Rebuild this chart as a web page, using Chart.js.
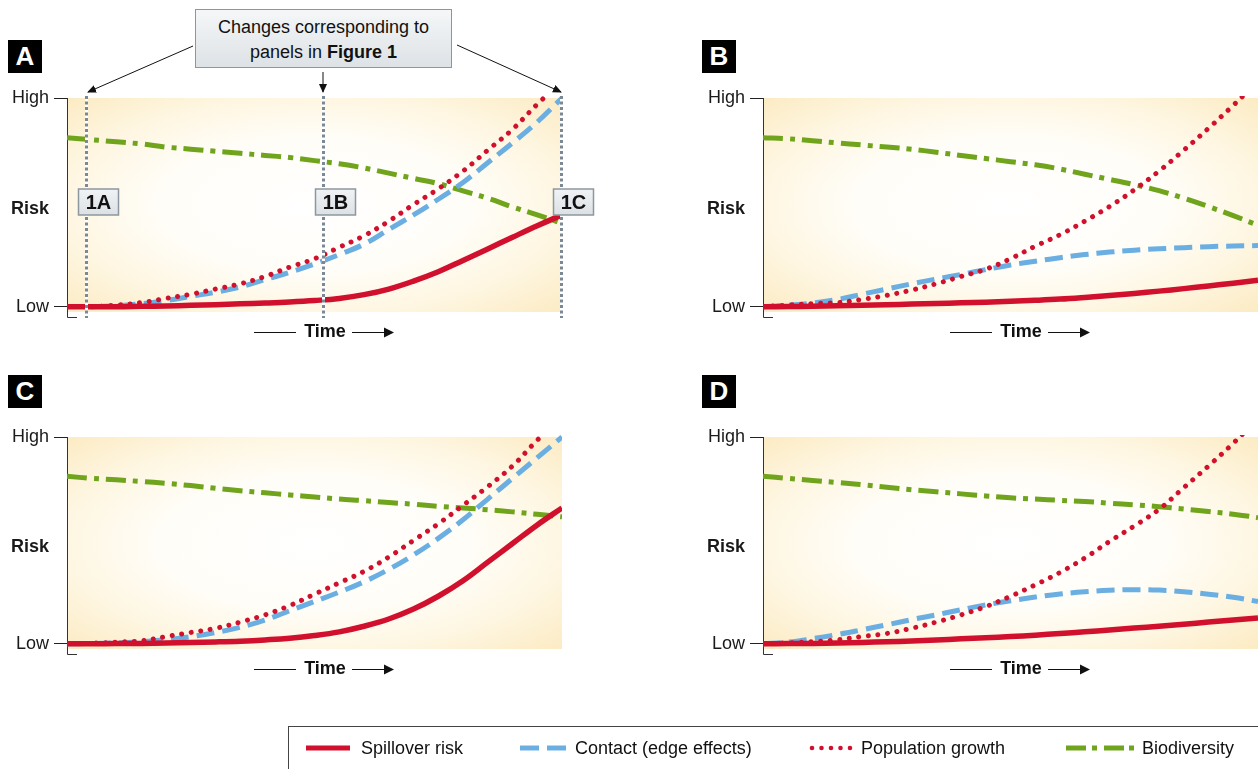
<!DOCTYPE html>
<html>
<head>
<meta charset="utf-8">
<script src="https://cdn.jsdelivr.net/npm/chart.js@4.4.1/dist/chart.umd.min.js"></script>
<style>
  body { margin: 0; width: 1258px; height: 769px; position: relative; overflow: hidden; background: #fff;
         font-family: "Liberation Sans", Arial, sans-serif; color: #111; }
  canvas { position: absolute; }
  .tag { position: absolute; width: 34px; height: 33px; background: #000; color: #fff; font-weight: bold;
         font-size: 26px; line-height: 33px; text-align: center; }
  #callout { position: absolute; left: 195px; top: 9px; width: 257px; height: 59px; box-sizing: border-box;
             border: 1px solid #8c969e; background: linear-gradient(#f5f7f8, #dde2e6); text-align: center;
             font-size: 18px; line-height: 25px; padding-top: 5px; }
  #legend { position: absolute; left: 288px; top: 726px; width: 1000px; height: 60px; border: 1px solid #444; }
  .lg { position: absolute; top: 736px; font-size: 18px; line-height: 24px; }
  svg { position: absolute; left: 0; top: 0; pointer-events: none; }
</style>
</head>
<body>
<div class="tag" style="left:8px; top:40px">A</div>
<div class="tag" style="left:702px; top:40px">B</div>
<div class="tag" style="left:8px; top:375px">C</div>
<div class="tag" style="left:702px; top:375px">D</div>

<div id="callout">Changes corresponding to<br>panels in <b>Figure 1</b></div>

<canvas id="chartA" width="620" height="265" style="left:0; top:80px"></canvas>
<canvas id="chartB" width="562" height="265" style="left:696px; top:80px"></canvas>
<canvas id="chartC" width="620" height="265" style="left:0; top:419px"></canvas>
<canvas id="chartD" width="562" height="265" style="left:696px; top:419px"></canvas>

<svg width="1258" height="100">
  <defs>
    <marker id="ah" markerWidth="9" markerHeight="8" refX="8" refY="4" orient="auto" markerUnits="userSpaceOnUse">
      <path d="M0,0 L9,4 L0,8 z" fill="#111"/>
    </marker>
  </defs>
  <line x1="193" y1="46" x2="88" y2="92" stroke="#111" stroke-width="1" marker-end="url(#ah)"/>
  <line x1="323" y1="72" x2="323" y2="92" stroke="#111" stroke-width="1" marker-end="url(#ah)"/>
  <line x1="457" y1="45" x2="561" y2="92" stroke="#111" stroke-width="1" marker-end="url(#ah)"/>
</svg>

<div id="legend"></div>
<svg width="1258" height="769">
  <line x1="306" y1="748" x2="350" y2="748" stroke="#d0102c" stroke-width="5"/>
  <line x1="520" y1="748" x2="539" y2="748" stroke="#6aaee2" stroke-width="5"/>
  <line x1="547" y1="748" x2="566" y2="748" stroke="#6aaee2" stroke-width="5"/>
  <g fill="#d0102c">
    <circle cx="812" cy="748" r="2.3"/><circle cx="821.5" cy="748" r="2.3"/><circle cx="831" cy="748" r="2.3"/>
    <circle cx="840.5" cy="748" r="2.3"/><circle cx="850" cy="748" r="2.3"/>
  </g>
  <line x1="1066" y1="748" x2="1086" y2="748" stroke="#6fa41c" stroke-width="5"/>
  <line x1="1092" y1="748" x2="1097" y2="748" stroke="#6fa41c" stroke-width="5"/>
  <line x1="1104" y1="748" x2="1124" y2="748" stroke="#6fa41c" stroke-width="5"/>
  <line x1="1129" y1="748" x2="1134" y2="748" stroke="#6fa41c" stroke-width="5"/>
</svg>
<div class="lg" style="left:361px">Spillover risk</div>
<div class="lg" style="left:575px">Contact (edge effects)</div>
<div class="lg" style="left:861px">Population growth</div>
<div class="lg" style="left:1142px">Biodiversity</div>

<script>
// Tiempo (unidades arbitrarias) y riesgo: 0 = Low, 1 = High
const TIME = [0, 5, 10, 15, 20, 25, 30, 35, 40, 45, 50, 55, 60, 65, 70, 75, 80, 85, 90, 95, 100];
const Y_TICKS = [0, 0.47, 1];
const Y_LABELS = ['Low', 'Risk', 'High'];
const MARK_TIMES = [3.9, 51.7, 99.7];
const MARK_LABELS = ['1A', '1B', '1C'];

// Panel A
const A_SPILL   = [0, 0, 0, 0.002, 0.004, 0.007, 0.01, 0.014, 0.018, 0.023, 0.03, 0.04, 0.058, 0.085, 0.123, 0.168, 0.222, 0.277, 0.333, 0.388, 0.44];
const A_CONTACT = [null, 0, 0.005, 0.015, 0.03, 0.05, 0.07, 0.095, 0.13, 0.165, 0.205, 0.25, 0.30, 0.37, 0.44, 0.515, 0.595, 0.69, 0.785, 0.885, 1.0];
const A_POP     = [null, 0, 0.008, 0.02, 0.04, 0.06, 0.085, 0.11, 0.145, 0.19, 0.23, 0.285, 0.34, 0.41, 0.49, 0.565, 0.65, 0.75, 0.85, 0.97, 1.08];
const A_BIO     = [0.81, 0.80, 0.79, 0.78, 0.765, 0.755, 0.745, 0.735, 0.725, 0.715, 0.70, 0.685, 0.665, 0.64, 0.615, 0.59, 0.555, 0.52, 0.478, 0.44, 0.40];
// Panel B
const B_SPILL   = [0, 0.001, 0.003, 0.005, 0.007, 0.01, 0.013, 0.016, 0.019, 0.022, 0.026, 0.031, 0.037, 0.045, 0.054, 0.064, 0.075, 0.087, 0.1, 0.113, 0.127];
const B_CONTACT = [0, 0.008, 0.018, 0.035, 0.06, 0.085, 0.11, 0.133, 0.155, 0.178, 0.20, 0.218, 0.235, 0.25, 0.262, 0.271, 0.278, 0.283, 0.288, 0.291, 0.293];
const B_POP     = [0, 0.008, 0.015, 0.02, 0.035, 0.055, 0.08, 0.11, 0.145, 0.18, 0.23, 0.29, 0.345, 0.41, 0.48, 0.56, 0.65, 0.75, 0.855, 0.965, 1.08];
const B_BIO     = [0.81, 0.805, 0.795, 0.785, 0.775, 0.765, 0.755, 0.74, 0.725, 0.71, 0.695, 0.68, 0.66, 0.635, 0.61, 0.585, 0.556, 0.52, 0.48, 0.437, 0.39];
// Panel C
const C_SPILL   = [0, 0, 0.001, 0.002, 0.004, 0.006, 0.009, 0.013, 0.019, 0.027, 0.04, 0.058, 0.085, 0.12, 0.168, 0.23, 0.305, 0.395, 0.485, 0.575, 0.657];
const C_CONTACT = [0, 0.002, 0.005, 0.01, 0.02, 0.035, 0.055, 0.08, 0.115, 0.16, 0.205, 0.25, 0.30, 0.36, 0.43, 0.51, 0.60, 0.70, 0.80, 0.90, 1.0];
const C_POP     = [0, 0.003, 0.008, 0.015, 0.035, 0.055, 0.075, 0.105, 0.14, 0.185, 0.24, 0.295, 0.35, 0.42, 0.50, 0.58, 0.67, 0.76, 0.86, 0.985, 1.1];
const C_BIO     = [0.81, 0.80, 0.793, 0.785, 0.776, 0.765, 0.752, 0.74, 0.73, 0.72, 0.71, 0.70, 0.692, 0.683, 0.675, 0.665, 0.657, 0.648, 0.638, 0.626, 0.614];
// Panel D
const D_SPILL   = [0, 0.001, 0.002, 0.004, 0.007, 0.01, 0.014, 0.019, 0.024, 0.029, 0.035, 0.042, 0.05, 0.058, 0.067, 0.076, 0.085, 0.095, 0.105, 0.115, 0.125];
const D_CONTACT = [0, 0.008, 0.025, 0.045, 0.068, 0.092, 0.117, 0.14, 0.165, 0.188, 0.208, 0.226, 0.241, 0.252, 0.259, 0.262, 0.26, 0.252, 0.24, 0.225, 0.205];
const D_POP     = [0, 0.005, 0.01, 0.02, 0.035, 0.05, 0.075, 0.105, 0.14, 0.18, 0.23, 0.285, 0.345, 0.415, 0.495, 0.57, 0.65, 0.755, 0.86, 0.97, 1.09];
const D_BIO     = [0.81, 0.80, 0.79, 0.78, 0.77, 0.757, 0.745, 0.735, 0.725, 0.715, 0.706, 0.70, 0.694, 0.688, 0.68, 0.672, 0.663, 0.652, 0.64, 0.627, 0.61];

const FONT = '"Liberation Sans", Arial, sans-serif';
const RED = '#d0102c', BLUE = '#6aaee2', GREEN = '#6fa41c';

const pts = (vals) => TIME.map((t, i) => ({ x: t, y: vals[i] }));

// fondo crema con centro blanco (elíptico)
const panelBg = {
  id: 'panelBg',
  beforeDraw(chart) {
    const { ctx, chartArea: a } = chart;
    const cx = (a.left + a.right) / 2, cy = (a.top + a.bottom) / 2;
    const rx = (a.right - a.left) / 2, ry = (a.bottom - a.top) / 2;
    ctx.save();
    ctx.beginPath();
    ctx.rect(a.left, a.top, a.right - a.left, a.bottom - a.top);
    ctx.clip();
    ctx.translate(cx, cy);
    ctx.scale(1, ry / rx);
    const g = ctx.createRadialGradient(0, 0, 0, 0, 0, rx * 1.42);
    g.addColorStop(0, '#ffffff');
    g.addColorStop(0.45, '#fffdf7');
    g.addColorStop(0.72, '#fef6e1');
    g.addColorStop(1, '#fcebc3');
    ctx.fillStyle = g;
    ctx.fillRect(-rx * 1.5, -rx * 1.5, rx * 3, rx * 3);
    ctx.restore();
  },
};

// marcas 1A/1B/1C, pie del eje y rótulo "Time"
const panelDecor = {
  id: 'panelDecor',
  afterDatasetsDraw(chart, args, opts) {
    if (!opts.marks) return;
    const { ctx, chartArea: a, scales: { x } } = chart;
    MARK_TIMES.forEach((t, i) => {
      const px = Math.round(x.getPixelForValue(t)) + 0.5;
      ctx.save();
      ctx.lineWidth = 3;
      ctx.strokeStyle = '#ffffff';
      ctx.beginPath(); ctx.moveTo(px, a.top - 2); ctx.lineTo(px, a.bottom + 6); ctx.stroke();
      ctx.setLineDash([3, 2.5]);
      ctx.strokeStyle = '#7b8896';
      ctx.beginPath(); ctx.moveTo(px, a.top - 2); ctx.lineTo(px, a.bottom + 6); ctx.stroke();
      ctx.setLineDash([]);
      const bx = px - 8, by = a.top + 91, bw = 40, bh = 26;
      const g = ctx.createLinearGradient(0, by, 0, by + bh);
      g.addColorStop(0, '#f1f3f5');
      g.addColorStop(1, '#dce1e5');
      ctx.fillStyle = g;
      ctx.fillRect(bx, by, bw, bh);
      ctx.lineWidth = 1.5;
      ctx.strokeStyle = '#8d979f';
      ctx.strokeRect(bx, by, bw, bh);
      ctx.fillStyle = '#111';
      ctx.font = 'bold 20px ' + FONT;
      ctx.textAlign = 'center';
      ctx.textBaseline = 'middle';
      ctx.fillText(MARK_LABELS[i], bx + bw / 2, by + bh / 2 + 1);
      ctx.restore();
    });
  },
  afterDraw(chart) {
    const { ctx, chartArea: a } = chart;
    ctx.save();
    ctx.strokeStyle = '#333';
    ctx.lineWidth = 1;
    ctx.beginPath();
    ctx.moveTo(a.left + 0.5, a.bottom - 1);
    ctx.lineTo(a.left + 0.5, a.bottom + 5.5);
    ctx.lineTo(a.left + 10, a.bottom + 5.5);
    ctx.stroke();
    const cx = a.left + 258, cy = a.bottom + 20;
    ctx.fillStyle = '#111';
    ctx.font = 'bold 18px ' + FONT;
    ctx.textAlign = 'center';
    ctx.textBaseline = 'middle';
    ctx.fillText('Time', cx, cy);
    ctx.strokeStyle = '#111';
    ctx.lineWidth = 1.2;
    ctx.beginPath();
    ctx.moveTo(cx - 71, cy + 0.5); ctx.lineTo(cx - 29, cy + 0.5);
    ctx.moveTo(cx + 27, cy + 0.5); ctx.lineTo(cx + 60, cy + 0.5);
    ctx.stroke();
    ctx.beginPath();
    ctx.moveTo(cx + 69, cy + 0.5); ctx.lineTo(cx + 59, cy - 4.5); ctx.lineTo(cx + 59, cy + 5.5);
    ctx.closePath();
    ctx.fill();
    ctx.restore();
  },
};

function make(id, series, pad, marks) {
  const [spill, contact, pop, bio] = series;
  const clip = { left: 0, right: 0, top: 2, bottom: 4 };
  new Chart(document.getElementById(id), {
    type: 'line',
    data: {
      datasets: [
        { label: 'Spillover risk', data: pts(spill), borderColor: RED, borderWidth: 5.5, clip },
        { label: 'Population growth', data: pts(pop), borderColor: RED, borderWidth: 5, borderDash: [0.01, 9.6], borderCapStyle: 'round', clip },
        { label: 'Contact (edge effects)', data: pts(contact), borderColor: BLUE, borderWidth: 5, borderDash: [18, 8], clip },
        { label: 'Biodiversity', data: pts(bio), borderColor: GREEN, borderWidth: 5, borderDash: [20, 7, 5, 7], clip },
      ],
    },
    options: {
      responsive: false,
      animation: false,
      layout: { padding: pad },
      elements: { point: { radius: 0 }, line: { tension: 0.4, fill: false } },
      plugins: { legend: { display: false }, tooltip: { enabled: false }, panelDecor: { marks } },
      scales: {
        x: { type: 'linear', min: 0, max: 100, display: false },
        y: {
          min: -0.025, max: 1,
          afterFit: (s) => { s.width = 67; },
          afterBuildTicks: (s) => { s.ticks = Y_TICKS.map((v) => ({ value: v })); },
          ticks: {
            padding: 5,
            color: '#1a1a1a',
            font: (c) => ({ family: FONT, size: 18, weight: c.tick && c.tick.value === Y_TICKS[1] ? 'bold' : 'normal' }),
            callback: (v, i) => Y_LABELS[i],
          },
          grid: {
            drawOnChartArea: false,
            tickLength: 13,
            tickWidth: 1,
            tickColor: (c) => (c.tick && c.tick.value === Y_TICKS[1] ? 'rgba(0,0,0,0)' : '#222'),
          },
          border: { color: '#333', width: 1 },
        },
      },
    },
    plugins: [panelBg, panelDecor],
  });
}

make('chartA', [A_SPILL, A_CONTACT, A_POP, A_BIO], { left: 0, top: 18, right: 58, bottom: 33 }, true);
make('chartB', [B_SPILL, B_CONTACT, B_POP, B_BIO], { left: 0, top: 18, right: 0, bottom: 33 }, false);
make('chartC', [C_SPILL, C_CONTACT, C_POP, C_BIO], { left: 0, top: 18, right: 58, bottom: 35 }, false);
make('chartD', [D_SPILL, D_CONTACT, D_POP, D_BIO], { left: 0, top: 18, right: 0, bottom: 35 }, false);
</script>
</body>
</html>
